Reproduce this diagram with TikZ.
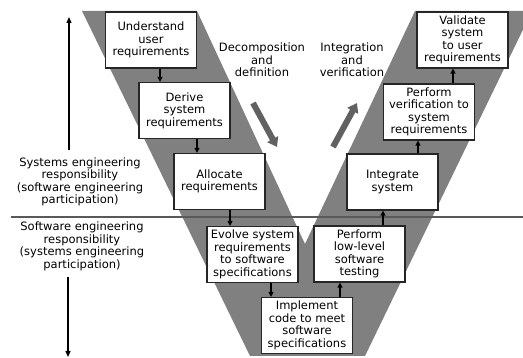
\documentclass[tikz,border=0pt]{standalone}
\usepackage{fontspec}
\setmainfont{DejaVu Sans}
\usetikzlibrary{arrows.meta, positioning}

\begin{document}
\begin{tikzpicture}[
    x=1pt, y=-1pt,
    every node/.style={align=center, font=\fontsize{11.5}{12.5}\selectfont},
    stage/.style={draw=black!85, line width=1.2pt, fill=white, minimum width=91pt, minimum height=56pt, inner sep=1.5pt},
    arrow/.style={-{Triangle[length=5pt,width=5pt]}, line width=1.2pt},
    flow/.style={-{Triangle[length=9pt,width=12pt]}, line width=6pt, draw=black!62},
    side/.style={-{Triangle[length=6pt,width=5pt]}, line width=1.3pt}
]

\useasboundingbox (0,0) rectangle (523,358);

% V band
\begin{scope}
\clip (0,0) rectangle (523,358);
\fill[black!50] (82,11) -- (197,11) -- (305,244) -- (415,11) -- (532,11) -- (365,356) -- (250,356) -- cycle;
\end{scope}

% Responsibility split
\coordinate (sl) at (11,217);
\coordinate (sr) at (523,217);
\draw[line width=1.5pt, black!65] (sl) -- (sr);

% Left leg
\node[stage] (ur) at (151,40) {Understand\\ user\\ requirements};
\node[stage] (ds) at (184.5,110.5) {Derive\\ system\\ requirements};
\node[stage] (ar) at (219.5,181.5) {Allocate\\ requirements};
\node[stage] (ev) at (252.5,254.5) {Evolve system\\ requirements\\ to software\\ specifications};

% Bottom
\node[stage] (ic) at (307,325.5) {Implement\\ code to meet\\ software\\ specifications};

% Right leg
\node[stage] (lt) at (359.5,254) {Perform\\ low-level\\ software\\ testing};
\node[stage] (is) at (392.5,182) {Integrate\\ system};
\node[stage] (vs) at (429,112) {Perform\\ verification to\\ system\\ requirements};
\node[stage] (vu) at (462.5,40) {Validate\\ system\\ to user\\ requirements};

\draw[arrow] (ur.south -| 160,0) -- (ds.north -| 160,0);
\draw[arrow] (ds.south -| 197,0) -- (ar.north -| 197,0);
\draw[arrow] (ar.south -| 230,0) -- (ev.north -| 230,0);
\draw[arrow] (ev.south -| 271,0) -- (ic.north -| 271,0);
\draw[arrow] (ic.north -| 340,0) -- (lt.south -| 340,0);
\draw[arrow] (lt.north -| 383,0) -- (is.south -| 383,0);
\draw[arrow] (is.north -| 418,0) -- (vs.south -| 418,0);
\draw[arrow] (vs.north -| 453,0) -- (vu.south -| 453,0);

% Phase labels
\node (dec) at (262,60) {Decomposition\\ and\\ definition};
\node (int) at (352,60) {Integration\\ and\\ verification};

\coordinate (dec1) at (253,103);
\coordinate (dec2) at (277,147);
\coordinate (int1) at (333,147);
\coordinate (int2) at (357,103);
\draw[flow] (dec1) -- (dec2);
\draw[flow] (int1) -- (int2);

% Responsibility labels
\node (sys) at (80,182) {Systems engineering\\ responsibility\\ (software engineering\\ participation)};
\node (sw) at (82,246.5) {Software engineering\\ responsibility\\ (systems engineering\\ participation)};

\coordinate (up1) at (69,150);
\coordinate (up2) at (69,17);
\coordinate (dn1) at (68,277);
\coordinate (dn2) at (68,357);
\draw[side] (up1) -- (up2);
\draw[side] (dn1) -- (dn2);

\end{tikzpicture}
\end{document}
